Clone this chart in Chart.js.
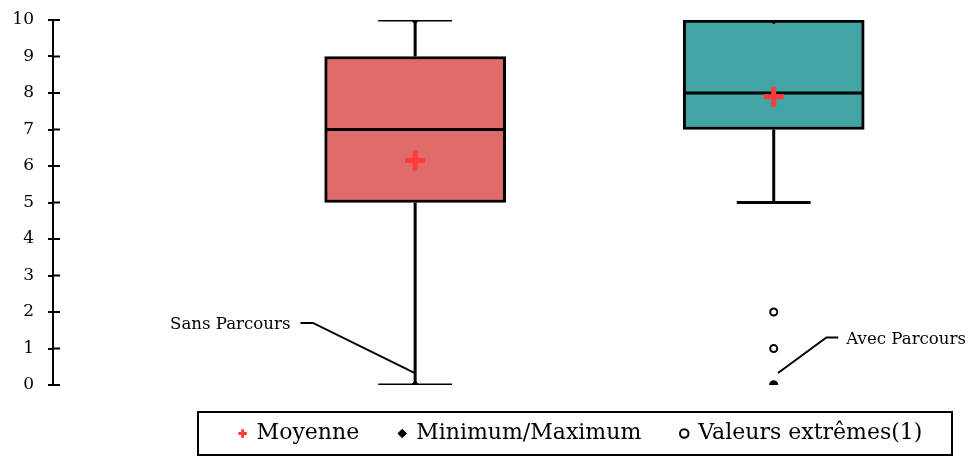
<!DOCTYPE html>
<html>
<head>
<meta charset="utf-8">
<script src="https://cdn.jsdelivr.net/npm/chart.js@4.4.1/dist/chart.umd.min.js"></script>
<style>
  body { margin: 0; background: #fff; }
  #wrap { width: 978px; height: 462px; position: relative; }
</style>
</head>
<body>
<div id="wrap"><canvas id="myChart"></canvas></div>
<script>
// box plot values
const categories = ["Sans Parcours", "Avec Parcours"];
const lowWhisker = [0, 5];
const q1 = [5, 7];
const median = [7, 8];
const q3 = [9, 10];
const highWhisker = [10, 10];
const minimum = [0, 0];
const maximum = [10, 10];
const means = [6.15, 7.9];
const outliers = [[], [2, 1, 0, 0]];
const yTicks = [0, 1, 2, 3, 4, 5, 6, 7, 8, 9, 10];
const legendLabels = ["Moyenne", "Minimum/Maximum", "Valeurs extrêmes(1)"];
const boxColors = ["#e06b6b", "#42a5a5"];

const boxHalf = 0.25;
const capHalf = 0.103;

// callouts (data units): first point is next to the text
const callouts = [
  { text: categories[0], align: "right", pts: [[0.68, 1.7], [0.715, 1.7], [0.998, 0.33]] },
  { text: categories[1], align: "left", pts: [[2.18, 1.3], [2.147, 1.3], [2.012, 0.33]] },
];
const legendFrame = { left: 198, right: 952, top: 412, bottom: 455 };
const legendFont = 22;

Chart.defaults.font.family = "'DejaVu Serif', serif";
Chart.defaults.color = "#000";

// whiskers, caps and medians as one broken line
let whiskerPts = [];
categories.forEach((c, i) => {
  const x = i + 1;
  if (lowWhisker[i] < q1[i]) {
    whiskerPts.push({ x: x, y: q1[i] }, { x: x, y: lowWhisker[i] }, { x: x, y: null });
    whiskerPts.push({ x: x - capHalf, y: lowWhisker[i] }, { x: x + capHalf, y: lowWhisker[i] }, { x: x, y: null });
  }
  if (highWhisker[i] > q3[i]) {
    whiskerPts.push({ x: x, y: q3[i] }, { x: x, y: highWhisker[i] }, { x: x, y: null });
    whiskerPts.push({ x: x - capHalf, y: highWhisker[i] }, { x: x + capHalf, y: highWhisker[i] }, { x: x, y: null });
  }
  whiskerPts.push({ x: x - boxHalf, y: median[i] }, { x: x + boxHalf, y: median[i] }, { x: x, y: null });
});

let extremePts = [];
outliers.forEach((list, i) => list.forEach((v) => extremePts.push({ x: i + 1, y: v })));

let minMaxPts = [];
categories.forEach((c, i) => {
  minMaxPts.push({ x: i + 1, y: minimum[i] }, { x: i + 1, y: maximum[i] });
});

const innerTicks = {
  id: "innerTicks",
  afterDraw(chart) {
    const y = chart.scales.y;
    const ctx = chart.ctx;
    ctx.save();
    ctx.strokeStyle = "#000";
    ctx.lineWidth = 2;
    yTicks.forEach((t) => {
      const py = y.getPixelForValue(t);
      ctx.beginPath();
      ctx.moveTo(chart.chartArea.left, py);
      ctx.lineTo(chart.chartArea.left + 7, py);
      ctx.stroke();
    });
    ctx.restore();
  },
};

const calloutPlugin = {
  id: "callouts",
  afterDatasetsDraw(chart) {
    const xs = chart.scales.x, ys = chart.scales.y;
    const ctx = chart.ctx;
    ctx.save();
    ctx.strokeStyle = "#000";
    ctx.lineWidth = 2;
    ctx.font = "16.6px 'DejaVu Serif', serif";
    ctx.fillStyle = "#000";
    ctx.textBaseline = "middle";
    callouts.forEach((c) => {
      const p = c.pts.map((q) => [xs.getPixelForValue(q[0]), ys.getPixelForValue(q[1])]);
      ctx.beginPath();
      ctx.moveTo(p[0][0], p[0][1]);
      p.slice(1).forEach((q) => ctx.lineTo(q[0], q[1]));
      ctx.stroke();
      ctx.textAlign = c.align;
      const tx = c.align === "right" ? p[0][0] - 10 : p[0][0] + 8;
      ctx.fillText(c.text, tx, p[0][1] + 2);
    });
    ctx.restore();
  },
};

// move the legend into its frame and draw the frame
const legendBox = {
  id: "legendBox",
  afterLayout(chart) {
    const lg = chart.legend;
    const pad = lg.options.labels.padding;
    // widened on both sides so the row does not wrap, nudged right a little
    lg.left = legendFrame.left - 24;
    lg.right = legendFrame.right + 36;
    lg.width = lg.right - lg.left;
    lg.top = (legendFrame.top + legendFrame.bottom) / 2 - pad - legendFont / 2;
    lg.bottom = chart.height;
    lg.height = lg.bottom - lg.top;
  },
  afterDraw(chart) {
    const ctx = chart.ctx;
    ctx.save();
    ctx.strokeStyle = "#000";
    ctx.lineWidth = 2;
    ctx.strokeRect(legendFrame.left, legendFrame.top, legendFrame.right - legendFrame.left, legendFrame.bottom - legendFrame.top);
    ctx.restore();
  },
};

const ctx = document.getElementById("myChart");
const myChart = new Chart(ctx, {
  type: "bar",
  data: {
    datasets: [
      {
        label: "boxes",
        data: categories.map((c, i) => ({ x: i + 1, y: [q1[i], q3[i]] })),
        backgroundColor: boxColors,
        borderColor: "#000",
        borderWidth: 3,
        borderSkipped: false,
        barThickness: 181,
        order: 4,
      },
      {
        type: "line",
        label: "whiskers",
        data: whiskerPts,
        borderColor: "#000",
        borderWidth: 3,
        pointRadius: 0,
        spanGaps: false,
        fill: false,
        order: 3,
      },
      {
        type: "scatter",
        label: legendLabels[0],
        data: categories.map((c, i) => ({ x: i + 1, y: means[i] })),
        pointStyle: "cross",
        pointRadius: 10,
        borderWidth: 5,
        borderColor: "#ff3b3b",
        backgroundColor: "#ff3b3b",
        order: 2,
      },
      {
        type: "scatter",
        label: legendLabels[1],
        data: minMaxPts,
        pointStyle: "rectRot",
        pointRadius: 4,
        borderWidth: 1,
        borderColor: "#000",
        backgroundColor: "#000",
        order: 0,
      },
      {
        type: "scatter",
        label: legendLabels[2],
        data: extremePts,
        pointStyle: "circle",
        pointRadius: 3.5,
        borderWidth: 2,
        borderColor: "#000",
        backgroundColor: "#fff",
        order: 1,
      },
    ],
  },
  options: {
    responsive: true,
    maintainAspectRatio: false,
    animation: false,
    layout: { padding: { top: 20, bottom: 17, right: 25, left: 0 } },
    scales: {
      x: {
        type: "linear",
        display: false,
        min: -0.01,
        max: 2.5,
        offset: false,
      },
      y: {
        min: 0,
        max: 10,
        afterFit: (scale) => {
          scale.width = 53;
          scale.paddingTop = 0;
          scale.paddingBottom = 0;
        },
        ticks: { stepSize: 1, padding: 14, font: { size: 17 }, color: "#000" },
        grid: { drawOnChartArea: false, drawTicks: true, tickLength: 5, color: "#000", lineWidth: 2 },
        border: { display: true, color: "#000", width: 2 },
      },
    },
    plugins: {
      tooltip: { enabled: false },
      legend: {
        position: "bottom",
        maxHeight: 60,
        labels: {
          usePointStyle: true,
          boxWidth: 6,
          boxHeight: 6,
          padding: 40,
          font: { size: legendFont },
          color: "#000",
          generateLabels: (chart) => {
            const items = Chart.defaults.plugins.legend.labels.generateLabels(chart);
            items.forEach((it) => {
              if (it.pointStyle === "cross") it.lineWidth = 3;
            });
            return items;
          },
          filter: (item) => legendLabels.includes(item.text),
          sort: (a, b) => legendLabels.indexOf(a.text) - legendLabels.indexOf(b.text),
        },
      },
    },
  },
  plugins: [innerTicks, calloutPlugin, legendBox],
});
</script>
</body>
</html>
